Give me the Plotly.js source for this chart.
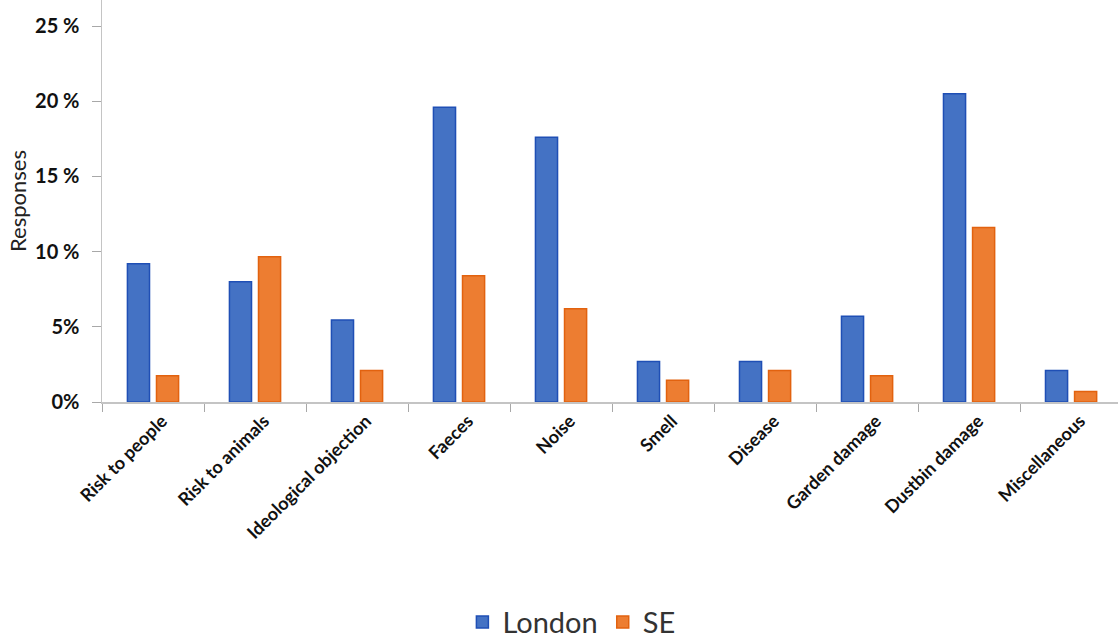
<!DOCTYPE html>
<html>
<head>
<meta charset="utf-8">
<script src="https://cdn.plot.ly/plotly-3.0.1.min.js"></script>
<style>html,body{margin:0;padding:0;background:#fff}#chart{width:1118px;height:640px}</style>
</head>
<body>
<div id="chart"></div>
<script>
const categories = ["Risk to people","Risk to animals","Ideological objection","Faeces","Noise","Smell","Disease","Garden damage","Dustbin damage","Miscellaneous"];
const london = [9.2, 8.0, 5.45, 19.6, 17.6, 2.7, 2.7, 5.7, 20.5, 2.1];
const se = [1.75, 9.65, 2.1, 8.4, 6.2, 1.45, 2.1, 1.75, 11.6, 0.7];
const yTickVals = [0, 5, 10, 15, 20, 25];
const yTickText = ["0%", "5%", "10 %", "15 %", "20 %", "25 %"];

const traces = [
  {type: "bar", name: "London", x: categories, y: london,
   marker: {color: "#4472C4", line: {color: "#1F4FB5", width: 1.5}}},
  {type: "bar", name: "SE", x: categories, y: se,
   marker: {color: "#ED7D31", line: {color: "#E2620F", width: 1.5}}}
];

const layout = {
  width: 1118, height: 640,
  margin: {l: 102, r: 0, t: 0, b: 238},
  paper_bgcolor: "#fff", plot_bgcolor: "#fff",
  barmode: "group", bargap: 0.43, bargroupgap: 0.24,
  showlegend: true,
  legend: {orientation: "h", x: 0.462, xanchor: "center",
           yref: "container", y: 0.028, yanchor: "middle",
           font: {family: "Lato, 'Open Sans', sans-serif", size: 29, color: "#333"},
           itemwidth: 30},
  xaxis: {
    type: "category", range: [-0.5, 9.46], automargin: false,
    showline: true, linecolor: "#c4c4c4", linewidth: 1.5,
    ticks: "outside", tickson: "boundaries", ticklen: 8, tickcolor: "#a8a8a8",
    tickangle: -45, showgrid: false, ticklabelshift: 9,
    tickfont: {family: "Lato, 'Open Sans', sans-serif", size: 18, color: "#111", weight: "bold"}
  },
  yaxis: {
    range: [0, 26.73], showline: true, linecolor: "#c4c4c4", linewidth: 1.5, automargin: false,
    showgrid: false, zeroline: false,
    ticks: "outside", ticklen: 9, tickcolor: "#a8a8a8",
    tickvals: yTickVals, ticktext: yTickText, ticklabelstandoff: 8,
    tickfont: {family: "Lato, 'Open Sans', sans-serif", size: 20, color: "#111", weight: "bold"},
    title: {text: "Responses", standoff: 2,
            font: {family: "Lato, 'Open Sans', sans-serif", size: 22, color: "#222"}}
  }
};

Plotly.newPlot("chart", traces, layout, {displayModeBar: false, staticPlot: true});
</script>
</body>
</html>
